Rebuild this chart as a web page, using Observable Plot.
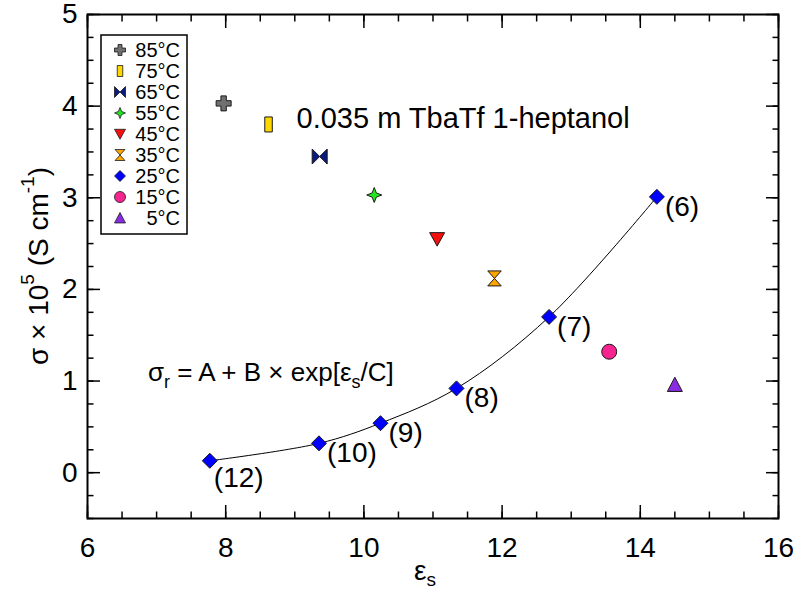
<!DOCTYPE html>
<html><head><meta charset="utf-8">
<script src="https://cdn.jsdelivr.net/npm/d3@7"></script>
<script src="https://cdn.jsdelivr.net/npm/@observablehq/plot@0.6"></script>
<style>
body{margin:0;background:#fff;}
svg text{font-family:"Liberation Sans",Arial,Helvetica,sans-serif;}
</style>
</head><body><div id="chart"></div>
<script>
// ---------- data ----------
const temps = ["85°C","75°C","65°C","55°C","45°C","35°C","25°C","15°C","5°C"];
const epsSingle   = [7.97, 8.62, 9.36, 10.15, 11.06, 11.89, null, 13.55, 14.50];
const sigmaSingle = [4.03, 3.80, 3.45, 3.03, 2.55, 2.12, null, 1.32, 0.96];
const solvents = ["(12)","(10)","(9)","(8)","(7)","(6)"];
const eps25   = [7.77, 9.35, 10.24, 11.34, 12.68, 14.24];
const sigma25 = [0.13, 0.32, 0.54, 0.92, 1.70, 3.01];
const xTicks = [6, 8, 10, 12, 14, 16];
const xMinor = [6,6.5,7,7.5,8,8.5,9,9.5,10,10.5,11,11.5,12,12.5,13,13.5,14,14.5,15,15.5,16];
const yTicks = [0, 1, 2, 3, 4, 5];
const yMinor = [-0.5,-0.25,0,0.25,0.5,0.75,1,1.25,1.5,1.75,2,2.25,2.5,2.75,3,3.25,3.5,3.75,4,4.25,4.5,4.75,5];
const titleText = "0.035 m TbaTf 1-heptanol";

// ---------- styles ----------
const fills = ["#707070","#FFD700","#0a1a80","#22e622","#f50f0f","#FFA500","#0000FF","#f5248f","#8a2be2"];
const rad = s => Math.sqrt(s / Math.PI);
const symbols = [
  {draw(c,s){const h=rad(s),t=0.36*h;c.moveTo(-t,-h);c.lineTo(t,-h);c.lineTo(t,-t);c.lineTo(h,-t);c.lineTo(h,t);c.lineTo(t,t);c.lineTo(t,h);c.lineTo(-t,h);c.lineTo(-t,t);c.lineTo(-h,t);c.lineTo(-h,-t);c.lineTo(-t,-t);c.closePath();}},
  {draw(c,s){const h=rad(s),w=0.5*h;c.moveTo(-w,-h);c.lineTo(w,-h);c.lineTo(w,h);c.lineTo(-w,h);c.closePath();}},
  {draw(c,s){const h=rad(s);c.moveTo(-h,-h);c.lineTo(0,0);c.lineTo(-h,h);c.closePath();c.moveTo(h,-h);c.lineTo(0,0);c.lineTo(h,h);c.closePath();}},
  {draw(c,s){const h=rad(s),k=0.28*h;c.moveTo(0,-h);c.lineTo(k,-k);c.lineTo(h,0);c.lineTo(k,k);c.lineTo(0,h);c.lineTo(-k,k);c.lineTo(-h,0);c.lineTo(-k,-k);c.closePath();}},
  {draw(c,s){const h=rad(s);c.moveTo(-h,-0.85*h);c.lineTo(h,-0.85*h);c.lineTo(0,0.95*h);c.closePath();}},
  {draw(c,s){const h=rad(s),w=0.9*h;c.moveTo(-w,-h);c.lineTo(w,-h);c.lineTo(0,0);c.closePath();c.moveTo(-w,h);c.lineTo(w,h);c.lineTo(0,0);c.closePath();}},
  {draw(c,s){const h=rad(s);c.moveTo(0,-h);c.lineTo(h,0);c.lineTo(0,h);c.lineTo(-h,0);c.closePath();}},
  {draw(c,s){const h=rad(s);c.moveTo(h,0);c.arc(0,0,h,0,2*Math.PI);c.closePath();}},
  {draw(c,s){const h=rad(s);c.moveTo(0,-h);c.lineTo(h,0.9*h);c.lineTo(-h,0.9*h);c.closePath();}}
];

const groups = temps.map((t, i) => t === "25°C"
  ? eps25.map((e, j) => ({t, eps: e, sigma: sigma25[j], label: solvents[j]}))
  : [{t, eps: epsSingle[i], sigma: sigmaSingle[i]}]);
const series25 = groups[temps.indexOf("25°C")];

const ML = 87, MR = 20, MT = 14, MB = 77;
const axStyle = {label: null, strokeWidth: 1.5};
const intFmt = d3.format("d");

const chart = Plot.plot({
  width: 798, height: 595,
  marginLeft: ML, marginRight: MR, marginTop: MT, marginBottom: MB,
  x: {domain: [6, 16], label: null},
  y: {domain: [-0.5, 5], label: null},
  style: {background: "white", fontFamily: "Liberation Sans, Arial, sans-serif", color: "black"},
  marks: [
    // ticks (inward, on all four sides)
    Plot.axisX(xMinor, {anchor: "bottom", tickSize: -6.5, fill: "none", ...axStyle}),
    Plot.axisX(xTicks, {anchor: "bottom", tickSize: -13, fill: "none", ...axStyle}),
    Plot.axisX(xMinor, {anchor: "top", tickSize: -6.5, fill: "none", ...axStyle}),
    Plot.axisX(xTicks, {anchor: "top", tickSize: -13, fill: "none", ...axStyle}),
    Plot.axisY(yMinor, {anchor: "left", tickSize: -6.5, fill: "none", ...axStyle}),
    Plot.axisY(yTicks, {anchor: "left", tickSize: -13, fill: "none", ...axStyle}),
    Plot.axisY(yMinor, {anchor: "right", tickSize: -6.5, fill: "none", ...axStyle}),
    Plot.axisY(yTicks, {anchor: "right", tickSize: -13, fill: "none", ...axStyle}),
    // tick labels
    Plot.axisX(xTicks, {anchor: "bottom", tickSize: 0, tickPadding: 19, fontSize: 28, label: null, tickFormat: intFmt}),
    Plot.axisY(yTicks, {anchor: "left", tickSize: 0, tickPadding: 10, fontSize: 28, label: null, tickFormat: intFmt}),
    Plot.frame({stroke: "black", strokeWidth: 2}),
    // fit curve
    Plot.line(series25, {x: "eps", y: "sigma", curve: "catmull-rom", stroke: "black", strokeWidth: 1}),
    // data points
    ...groups.map((g, i) => Plot.dot(g, {x: "eps", y: "sigma", symbol: symbols[i], r: 7.5,
      fill: fills[i], stroke: "#1a1a1a", strokeWidth: 1})),
    // solvent labels
    Plot.text(series25.filter(d => d.label !== "(12)"), {x: "eps", y: "sigma", text: "label",
      textAnchor: "start", dx: 8, dy: 10, fontSize: 28, fill: "black"}),
    Plot.text(series25.filter(d => d.label === "(12)"), {x: "eps", y: "sigma", text: "label",
      textAnchor: "start", dx: 4, dy: 17, fontSize: 28, fill: "black"}),
    // title annotation
    Plot.text([titleText], {frameAnchor: "top-left", dx: 209, dy: 93, textAnchor: "start",
      fontSize: 29, fill: "black"})
  ]
});

const svg = d3.select(chart);
const font = "Liberation Sans, Arial, sans-serif";

// y-axis title
const yt = svg.append("text")
  .attr("transform", "translate(38,266) rotate(-90)")
  .attr("text-anchor", "middle").attr("dominant-baseline", "central")
  .attr("font-size", 28).attr("font-family", font).attr("fill", "black");
yt.append("tspan").text("σ × 10");
yt.append("tspan").attr("dy", -11).attr("font-size", 19).text("5");
yt.append("tspan").attr("dy", 11).text(" (S cm");
yt.append("tspan").attr("dy", -11).attr("font-size", 19).text("-1");
yt.append("tspan").attr("dy", 11).text(")");

// x-axis title
const xt = svg.append("text")
  .attr("x", 425).attr("y", 580)
  .attr("text-anchor", "middle")
  .attr("font-size", 28).attr("font-family", font).attr("fill", "black");
xt.append("tspan").text("ε");
xt.append("tspan").attr("dy", 6).attr("font-size", 19).text("s");

// formula annotation
const ft = svg.append("text")
  .attr("x", 148).attr("y", 381).attr("text-anchor", "start")
  .attr("font-size", 26).attr("font-family", font).attr("fill", "black");
ft.append("tspan").text("σ");
ft.append("tspan").attr("dy", 7).attr("font-size", 18).text("r");
ft.append("tspan").attr("dy", -7).text(" = A + B × exp[ε");
ft.append("tspan").attr("dy", 7).attr("font-size", 18).text("s");
ft.append("tspan").attr("dy", -7).text("/C]");

// legend
const lg = svg.append("g");
lg.append("rect").attr("x", 101).attr("y", 35).attr("width", 86).attr("height", 199)
  .attr("fill", "white").attr("stroke", "black").attr("stroke-width", 1.5);
temps.forEach((t, i) => {
  const y = 50 + 21 * i;
  lg.append("path")
    .attr("transform", `translate(120,${y})`)
    .attr("d", d3.symbol(symbols[i], 5.5 * 5.5 * Math.PI)())
    .attr("fill", fills[i]).attr("stroke", "#1a1a1a").attr("stroke-width", 0.8);
  lg.append("text").attr("x", 180).attr("y", y).attr("dy", "0.35em")
    .attr("text-anchor", "end").attr("font-size", 20).attr("font-family", font)
    .attr("fill", "black").text(t);
});

document.getElementById("chart").appendChild(chart);
</script>
</body></html>
